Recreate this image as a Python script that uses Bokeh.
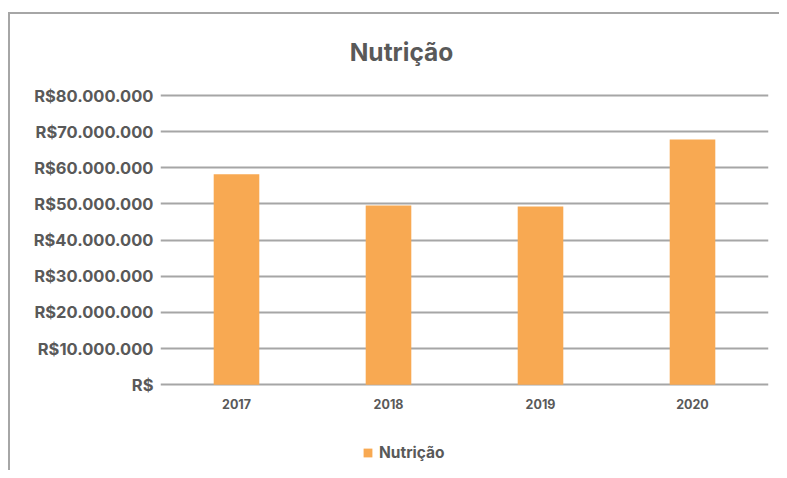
from bokeh.plotting import figure
from bokeh.models import ColumnDataSource, FixedTicker, Label, Legend, LegendItem, Range1d
from bokeh.embed import file_html
from bokeh.resources import INLINE

years = ["2017", "2018", "2019", "2020"]
nutricao = [58200000, 49600000, 49300000, 67800000]
y_ticks = [0, 10000000, 20000000, 30000000, 40000000, 50000000, 60000000, 70000000, 80000000]
y_tick_labels = ["R$", "R$10.000.000", "R$20.000.000", "R$30.000.000", "R$40.000.000",
                 "R$50.000.000", "R$60.000.000", "R$70.000.000", "R$80.000.000"]
title_text = "Nutrição"
series_name = "Nutrição"

FONT = "Inter"
TEXT = "#595959"
GRID = "#a6a6a6"
BAR = "#f8a952"

# layout (pixels): canvas size, where the 80M and 0 gridlines sit
H, W = 470, 779
FRAME_L, FRAME_R = 160, 768
Y_TOP_PX, Y_ZERO_PX = 95, 384.3
per_px = (y_ticks[-1] - y_ticks[0]) / (Y_ZERO_PX - Y_TOP_PX)
y_start = -(H - Y_ZERO_PX) * per_px
y_end = y_ticks[-1] + Y_TOP_PX * per_px

src = ColumnDataSource(dict(year=years, val=nutricao))

border_css = ("linear-gradient(#a6a6a6,#a6a6a6) 8px 12px / 100% 2px no-repeat, "
              "linear-gradient(#a6a6a6,#a6a6a6) 8px 12px / 2px 100% no-repeat")

p = figure(x_range=years, y_range=Range1d(y_start, y_end), width=W, height=H,
           output_backend="svg", toolbar_location=None,
           min_border_left=FRAME_L, min_border_right=W - FRAME_R,
           min_border_top=0, min_border_bottom=0,
           styles={"background": border_css})
p.outline_line_color = None
p.background_fill_color = None
p.border_fill_color = None

r = p.vbar(x="year", top="val", width=0.3, source=src, fill_color=BAR, line_color=None)

p.xgrid.grid_line_color = None
p.ygrid.grid_line_color = GRID
p.ygrid.grid_line_width = 2
p.ygrid.ticker = FixedTicker(ticks=y_ticks)

p.yaxis.ticker = FixedTicker(ticks=y_ticks)
p.yaxis.major_label_overrides = {t: l for t, l in zip(y_ticks, y_tick_labels)}
p.yaxis.axis_line_color = None
p.yaxis.major_tick_line_color = None
p.yaxis.minor_tick_line_color = None
p.yaxis.major_tick_out = 0
p.yaxis.major_tick_in = 0
p.yaxis.major_label_standoff = 7
p.yaxis.major_label_text_font = FONT
p.yaxis.major_label_text_font_style = "bold"
p.yaxis.major_label_text_font_size = "16.5px"
p.yaxis.major_label_text_color = TEXT

p.xaxis.fixed_location = 0
p.xaxis.axis_line_color = None
p.xaxis.major_tick_line_color = None
p.xaxis.minor_tick_line_color = None
p.xaxis.major_tick_out = 0
p.xaxis.major_tick_in = 0
p.xaxis.major_label_standoff = 14
p.xaxis.major_label_text_font = FONT
p.xaxis.major_label_text_font_style = "bold"
p.xaxis.major_label_text_font_size = "12.5px"
p.xaxis.major_label_text_color = TEXT

title = Label(x=401 - FRAME_L, y=H - 51, x_units="screen", y_units="screen", text=title_text,
              text_font=FONT, text_font_style="bold", text_font_size="24.5px",
              text_color=TEXT, text_align="center", text_baseline="middle")
p.add_layout(title)

legend = Legend(items=[LegendItem(label=series_name, renderers=[r])],
                location=(362 - FRAME_L, 8), orientation="horizontal",
                padding=0, margin=0, border_line_color=None, background_fill_alpha=0,
                glyph_width=11, glyph_height=11, label_standoff=6,
                label_text_font=FONT, label_text_font_style="bold",
                label_text_font_size="15.5px", label_text_color=TEXT)
p.add_layout(legend, "center")

open("out.html", "w").write(file_html(p, INLINE))
